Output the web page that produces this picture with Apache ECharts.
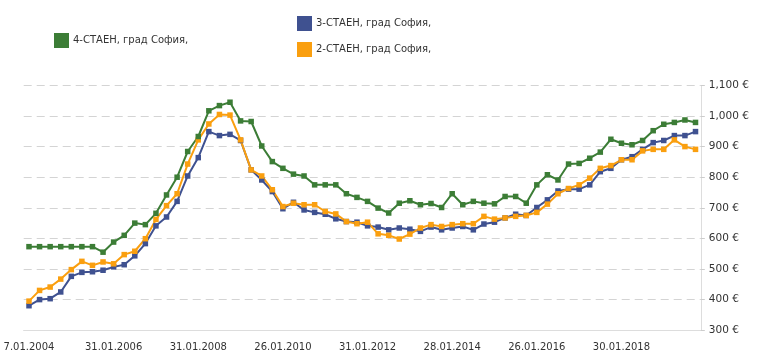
<!DOCTYPE html>
<html>
<head>
<meta charset="utf-8">
<script src="https://cdn.jsdelivr.net/npm/echarts@6/dist/echarts.min.js"></script>
<style>html,body{margin:0;padding:0;background:#fff}#c{width:768px;height:359px}</style>
</head>
<body>
<div id="c"></div>
<script>
// Quarterly observations 2004 Q1 .. 2019 Q4
const categories = [];
for (let y = 2004; y <= 2019; y++) for (let q = 1; q <= 4; q++) categories.push(y + '-Q' + q);

const tickLabels = ['7.01.2004','31.01.2006','31.01.2008','26.01.2010','31.01.2012','28.01.2014','26.01.2016','30.01.2018'];

const seriesNames = ['4-СТАЕН, град София,', '3-СТАЕН, град София,', '2-СТАЕН, град София,'];

const rooms4 = [573,573,573,573,573,573,573,555,588,610,650,645,682,
  742,800,884,933,1017,1034,1045,984,982,902,851,829,810,
  804,775,775,775,746,734,721,699,683,715,723,710,714,
  701,746,710,721,715,713,737,737,715,775,808,791,843,
  845,862,882,924,911,906,920,952,973,979,987,979];

const rooms3 = [380,400,403,425,476,489,491,496,507,514,543,583,641,
  670,721,804,864,949,936,940,920,824,791,753,697,718,
  693,685,679,664,655,653,641,637,628,634,630,623,637,
  628,634,639,628,647,653,667,679,675,701,726,755,761,
  761,775,818,829,857,867,891,913,920,936,936,949];

const rooms2 = [395,430,441,467,498,525,512,523,517,547,558,599,662,
  707,746,843,922,974,1005,1003,922,824,804,759,704,715,
  710,710,688,680,655,648,653,615,610,598,614,634,645,
  639,645,648,648,672,663,667,672,675,685,712,746,763,
  775,797,829,838,857,857,886,891,891,922,900,891];

const colors = {g:'#3c7d36', b:'#3f5190', o:'#fa9f0f'};
const font = 'DejaVu Sans';

function legend(name, left, top) {
  return {
    data: [name], left: left, top: top, padding: 0,
    icon: 'rect', itemWidth: 15, itemHeight: 15, itemGap: 4,
    textStyle: {fontFamily: font, fontSize: 10, color: '#333', padding: [0,0,0,-1]},
    selectedMode: false
  };
}

function mk(name, data, color) {
  return {
    name: name, type: 'line', data: data,
    symbol: 'rect', symbolSize: 5.5,
    lineStyle: {width: 2, color: color},
    itemStyle: {color: color},
    animation: false
  };
}

const chart = echarts.init(document.getElementById('c'));
chart.setOption({
  animation: false,
  color: [colors.b, colors.o, colors.g],
  legend: [
    legend(seriesNames[0], 54, 33),
    legend(seriesNames[1], 297, 16),
    legend(seriesNames[2], 297, 42)
  ],
  grid: {left: 23.7, right: 67.2, top: 85.4, bottom: 28.8, containLabel: false},
  xAxis: {
    type: 'category', data: categories, boundaryGap: true,
    axisLine: {lineStyle: {color: '#ddd'}},
    axisTick: {alignWithLabel: true, interval: 7, length: 4, lineStyle: {color: '#ddd'}},
    axisLabel: {
      interval: 0, margin: 12, fontFamily: font, fontSize: 10, color: '#333',
      formatter: function (v, idx) { return idx % 8 === 0 ? tickLabels[idx / 8] : ''; }
    },
    splitLine: {show: false}
  },
  yAxis: {
    type: 'value', position: 'right', min: 300, max: 1100, interval: 100,
    axisLine: {show: true, lineStyle: {color: '#ddd'}},
    axisTick: {show: true, length: 4, lineStyle: {color: '#ccc'}},
    axisLabel: {
      margin: 8, fontFamily: font, fontSize: 10.5, color: '#333',
      formatter: function (v) { return v.toLocaleString('en-US') + ' €'; }
    },
    splitLine: {lineStyle: {color: '#d4d4d4', type: [8, 5], width: 1}}
  },
  series: [
    mk(seriesNames[1], rooms3, colors.b),
    mk(seriesNames[2], rooms2, colors.o),
    mk(seriesNames[0], rooms4, colors.g)
  ]
});
</script>
</body>
</html>
